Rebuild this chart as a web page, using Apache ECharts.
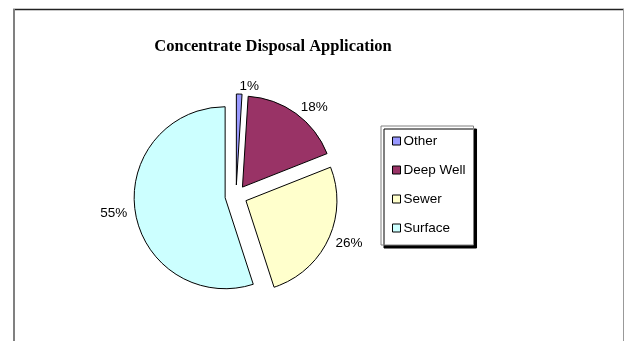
<!DOCTYPE html>
<html><head><meta charset="utf-8">
<script src="https://cdn.jsdelivr.net/npm/echarts@6/dist/echarts.min.js"></script>
<style>html,body{margin:0;padding:0;background:#fff}#c{width:624px;height:341px}</style>
</head><body><div id="c"></div>
<script>
const categories = ['Other', 'Deep Well', 'Sewer', 'Surface'];
const values = [1, 18, 26, 55];
const colors = ['#9999FF', '#993366', '#FFFFCC', '#CCFFFF'];
const titleText = 'Concentrate Disposal Application';

const chart = echarts.init(document.getElementById('c'), null, {renderer: 'canvas'});
chart.setOption({
  animation: false,
  backgroundColor: '#fff',
  title: {
    text: titleText, left: 268, top: 33, textAlign: 'center',
    textStyle: {fontFamily: 'Liberation Serif', fontWeight: 'bold', fontSize: 16.5, color: '#000'}
  },
  legend: {
    orient: 'vertical', left: 381, top: 126,
    padding: [8, 8, 10, 11], itemGap: 15, itemWidth: 8, itemHeight: 8,
    icon: 'rect', backgroundColor: '#fff', borderColor: '#808080', borderWidth: 1,
    shadowColor: '#000', shadowBlur: 0, shadowOffsetX: 3, shadowOffsetY: 3,
    selectedMode: false,
    itemStyle: {borderColor: '#000', borderWidth: 1},
    textStyle: {fontFamily: 'Liberation Sans', fontSize: 13.5, color: '#000', padding: [0, 0, 0, -2]},
    data: categories
  },
  graphic: [
    {type: 'line', shape: {x1: 13, y1: 9.5, x2: 624, y2: 9.5}, style: {stroke: '#222', lineWidth: 1.5}},
    {type: 'line', shape: {x1: 14, y1: 9, x2: 14, y2: 341}, style: {stroke: '#808080', lineWidth: 2}},
    {type: 'line', shape: {x1: 623.5, y1: 9, x2: 623.5, y2: 341}, style: {stroke: '#999', lineWidth: 1}}
  ],
  series: [{
    type: 'pie',
    center: [236, 196], radius: 91,
    startAngle: 90, clockwise: true,
    selectedMode: 'multiple', selectedOffset: 11,
    emphasis: {disabled: true},
    itemStyle: {borderColor: '#000', borderWidth: 1},
    label: {
      show: true, position: 'outside', formatter: '{d}%',
      fontFamily: 'Liberation Sans', fontSize: 13.5, color: '#000', distanceToLabelLine: 0
    },
    labelLine: {show: false, length: 8, length2: 0},
    data: categories.map((n, i) => ({name: n, value: values[i], selected: true, itemStyle: {color: colors[i]}}))
  }]
});
</script></body></html>
